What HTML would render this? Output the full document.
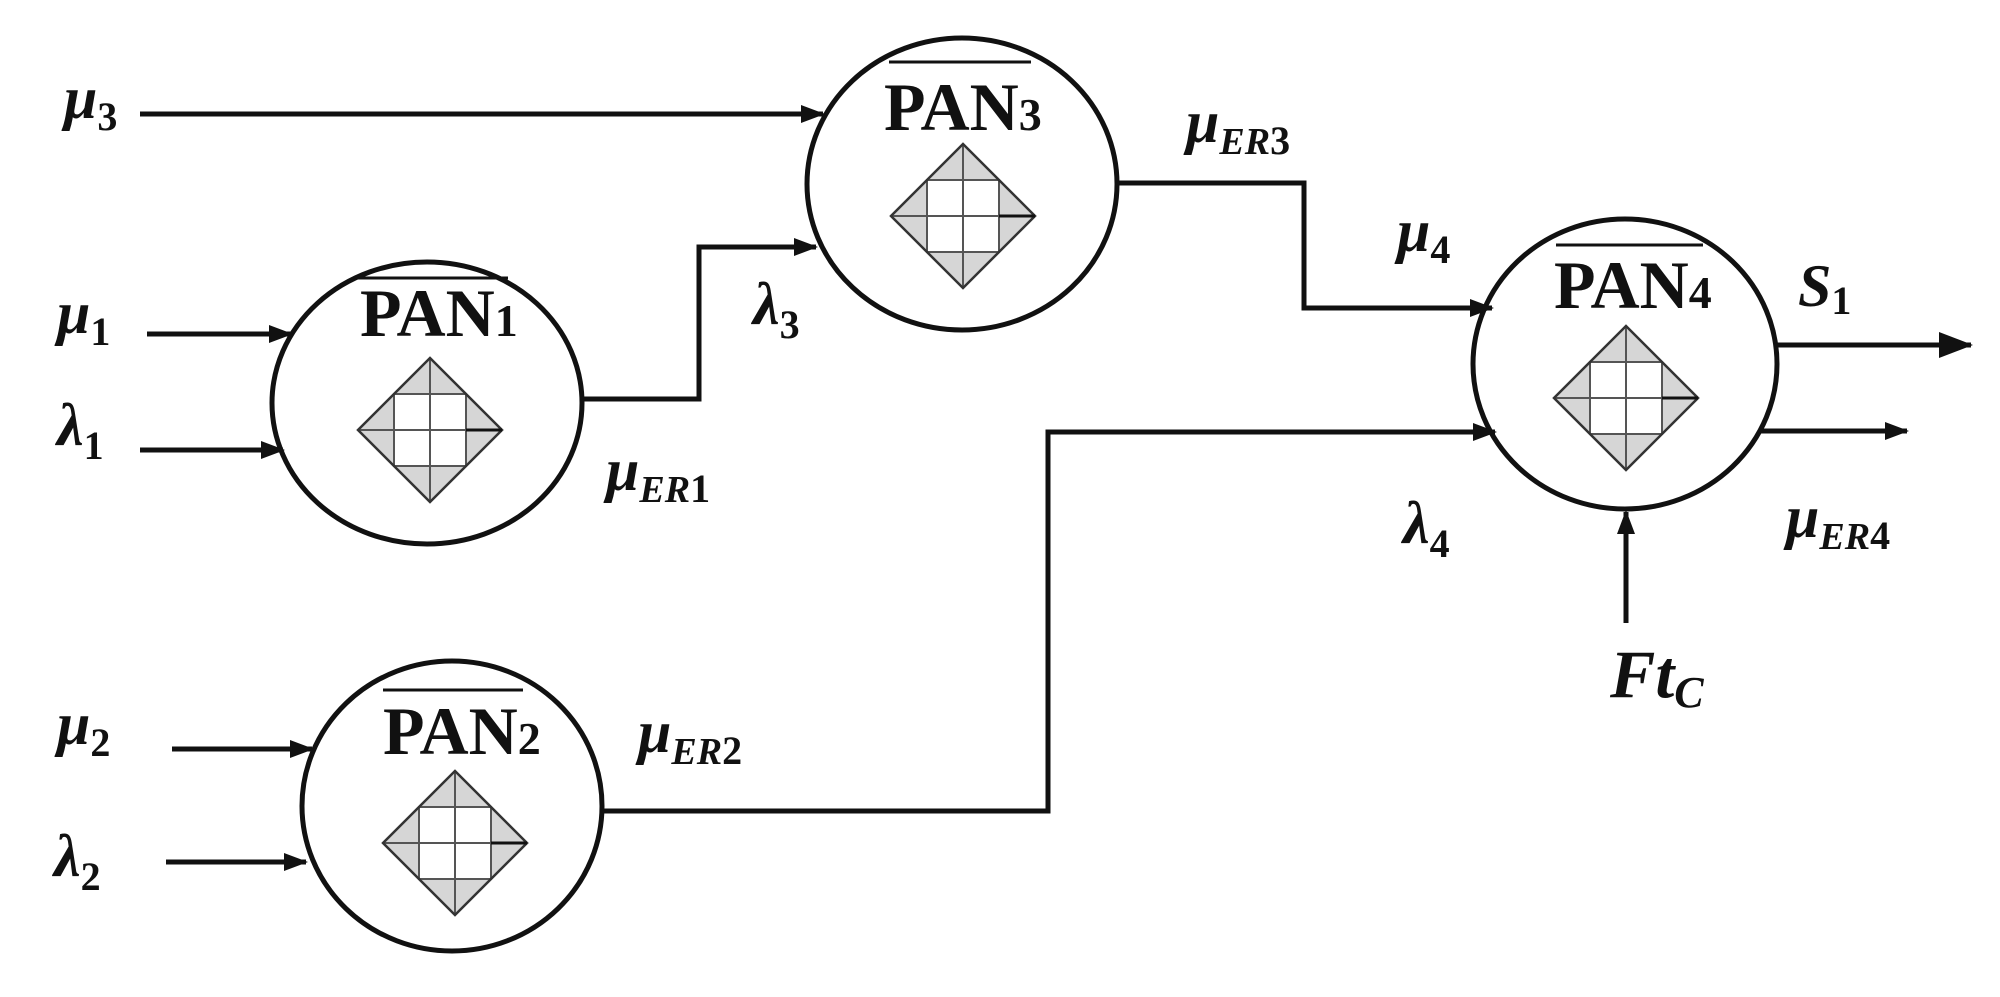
<!DOCTYPE html>
<html><head><meta charset="utf-8"><style>
html,body{margin:0;padding:0;background:#fff}
svg{display:block}
text{font-family:"Liberation Serif","Times New Roman",serif;font-weight:bold;fill:#111}
.l{font-style:italic;font-size:60px}
.s{font-style:normal;font-size:40px}
.si{font-style:italic;font-size:38px}
.p{font-size:68px}
.ps{font-size:46px}
</style></head><body>
<svg width="2000" height="997" viewBox="0 0 2000 997" xmlns="http://www.w3.org/2000/svg">
<defs>
<marker id="a" markerWidth="24" markerHeight="20" refX="22" refY="9" orient="auto" markerUnits="userSpaceOnUse">
<path d="M0,0 L24,9 L0,18 Z" fill="#111"/></marker>
<marker id="b" markerWidth="34" markerHeight="28" refX="32" refY="13" orient="auto" markerUnits="userSpaceOnUse">
<path d="M0,0 L34,13 L0,26 Z" fill="#111"/></marker>
<g id="d">
<path d="M0,-72 L72,0 L0,72 L-72,0 Z" fill="#d6d6d6"/>
<rect x="-36" y="-36" width="72" height="72" fill="#fff"/>
<g stroke="#555" stroke-width="2" fill="none">
<path d="M0,-72 L0,72 M-72,0 L72,0"/>
<rect x="-36" y="-36" width="72" height="72"/>
</g>
<path d="M0,-72 L72,0 L0,72 L-72,0 Z" fill="none" stroke="#333" stroke-width="2.5"/>
<path d="M36,0 L72,0" stroke="#111" stroke-width="3"/>
</g>
</defs>
<g fill="none" stroke="#111" stroke-width="5">
<ellipse cx="427" cy="403" rx="155" ry="141"/>
<ellipse cx="962" cy="184" rx="155" ry="146"/>
<ellipse cx="1625" cy="364" rx="152" ry="145"/>
<ellipse cx="452" cy="806" rx="150" ry="145"/>
<path d="M140,114 L823,114" marker-end="url(#a)"/>
<path d="M147,334 L291,334" marker-end="url(#a)"/>
<path d="M140,450 L283,450" marker-end="url(#a)"/>
<path d="M583,399 L699,399 L699,247 L816,247" marker-end="url(#a)"/>
<path d="M1117,183 L1304,183 L1304,308 L1492,308" marker-end="url(#a)"/>
<path d="M602,811 L1048,811 L1048,432 L1495,432" marker-end="url(#a)"/>
<path d="M1777,345 L1971,345" marker-end="url(#b)"/>
<path d="M1760,431 L1907,431" marker-end="url(#a)"/>
<path d="M1626,623 L1626,512" marker-end="url(#a)"/>
<path d="M172,749 L312,749" marker-end="url(#a)"/>
<path d="M166,862 L306,862" marker-end="url(#a)"/>
</g>
<g stroke="#111" stroke-width="3">
<path d="M355,278 L508,278"/>
<path d="M889,62 L1031,62"/>
<path d="M1556,245 L1703,245"/>
<path d="M383,690 L523,690"/>
</g>
<use href="#d" x="430" y="430"/>
<use href="#d" x="963" y="216"/>
<use href="#d" x="1626" y="398"/>
<use href="#d" x="455" y="843"/>
<text x="360" y="336" class="p">PAN<tspan class="ps">1</tspan></text>
<text x="884" y="130" class="p">PAN<tspan class="ps">3</tspan></text>
<text x="1554" y="308" class="p">PAN<tspan class="ps">4</tspan></text>
<text x="383" y="754" class="p">PAN<tspan class="ps">2</tspan></text>
<text x="64" y="118" class="l">μ<tspan class="s" dy="12">3</tspan></text>
<text x="57" y="333" class="l">μ<tspan class="s" dy="12">1</tspan></text>
<text x="57" y="445" class="l">λ<tspan class="s" dy="14">1</tspan></text>
<text x="753" y="324" class="l">λ<tspan class="s" dy="14">3</tspan></text>
<text x="606" y="490" class="l">μ<tspan class="si" dy="12">ER</tspan><tspan class="s">1</tspan></text>
<text x="1186" y="142" class="l">μ<tspan class="si" dy="12">ER</tspan><tspan class="s">3</tspan></text>
<text x="1397" y="251" class="l">μ<tspan class="s" dy="12">4</tspan></text>
<text x="1798" y="306" class="l">S<tspan class="s" dy="8">1</tspan></text>
<text x="1403" y="543" class="l">λ<tspan class="s" dy="14">4</tspan></text>
<text x="1786" y="537" class="l">μ<tspan class="si" dy="12">ER</tspan><tspan class="s">4</tspan></text>
<text x="1610" y="697" class="l" style="font-size:68px">Ft<tspan class="si" dy="10" style="font-size:44px">C</tspan></text>
<text x="57" y="744" class="l">μ<tspan class="s" dy="12">2</tspan></text>
<text x="54" y="876" class="l">λ<tspan class="s" dy="14">2</tspan></text>
<text x="638" y="752" class="l">μ<tspan class="si" dy="12">ER</tspan><tspan class="s">2</tspan></text>
</svg>
</body></html>
